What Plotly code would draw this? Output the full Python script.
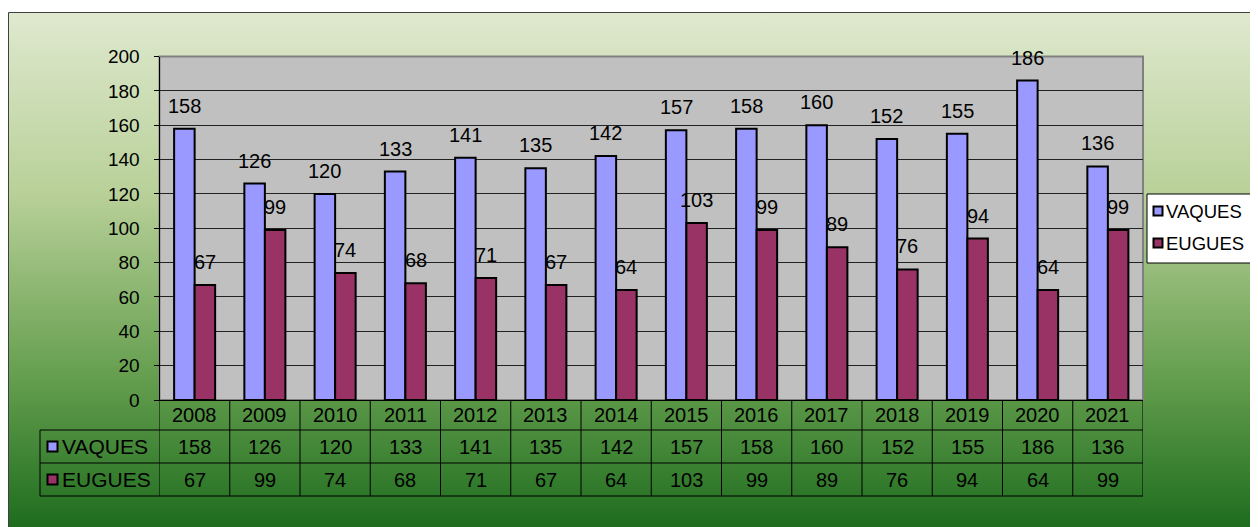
import base64
import plotly.graph_objects as go

# ---- data ----
years = ["2008", "2009", "2010", "2011", "2012", "2013", "2014",
         "2015", "2016", "2017", "2018", "2019", "2020", "2021"]
vaques = [158, 126, 120, 133, 141, 135, 142, 157, 158, 160, 152, 155, 186, 136]
eugues = [67, 99, 74, 68, 71, 67, 64, 103, 99, 89, 76, 94, 64, 99]
series_names = ["VAQUES", "EUGUES"]
y_ticks = list(range(0, 201, 20))

# ---- style ----
W, H = 1258, 527
OFF = 8  # page body margin of the exported html
FONT = "Arial, 'Liberation Sans', sans-serif"
C_VAQ = "#9999FF"
C_EUG = "#993366"


def px(x):
    return (x - OFF) / W


def py(y):
    return 1 - (y - OFF) / H


PL, PR, PT, PB = 159.5, 1143.0, 56.5, 400.0
ROW1, ROW2, ROW3 = 430.0, 463.0, 496.0
TBL_L = 40.0

n = len(years)
idx = list(range(n))

fig = go.Figure()
fig.add_trace(go.Bar(x=years, y=vaques, name=series_names[0],
                     marker=dict(color=C_VAQ, line=dict(color="black", width=2))))
fig.add_trace(go.Bar(x=years, y=eugues, name=series_names[1],
                     marker=dict(color=C_EUG, line=dict(color="black", width=2))))

# gradient background via svg image
svg = ('<svg xmlns="http://www.w3.org/2000/svg" width="1250" height="515" '
       'preserveAspectRatio="none" viewBox="0 0 1250 515">'
       '<defs><linearGradient id="g" x1="0" y1="0" x2="0" y2="1">'
       '<stop offset="0" stop-color="#DFE9CF"/>'
       '<stop offset="0.35" stop-color="#B8D098"/>'
       '<stop offset="0.7" stop-color="#649E4E"/>'
       '<stop offset="1" stop-color="#1B6A1C"/>'
       '</linearGradient></defs>'
       '<rect x="0" y="0" width="1250" height="515" fill="url(#g)"/></svg>')
src = "data:image/svg+xml;base64," + base64.b64encode(svg.encode()).decode()

images = [dict(source=src, xref="paper", yref="paper", x=px(8), y=py(12),
               sizex=1 - px(8), sizey=py(12), xanchor="left", yanchor="top",
               sizing="stretch", layer="below")]

shapes = []
# outer frame
shapes.append(dict(type="rect", xref="paper", yref="paper", x0=px(8.5), x1=1.01,
                   y0=-0.01, y1=py(12.5), line=dict(color="#404040", width=1),
                   fillcolor="rgba(0,0,0,0)", layer="below"))
# plot area background and border
shapes.append(dict(type="rect", xref="paper", yref="paper", x0=px(PL), x1=px(PR),
                   y0=py(PB), y1=py(PT), line=dict(color="#808080", width=2),
                   fillcolor="#C0C0C0", layer="below"))

# data table lines
for i in range(n + 1):
    shapes.append(dict(type="line", xref="x", yref="paper", x0=i - 0.5, x1=i - 0.5,
                       y0=py(ROW3), y1=py(PB), line=dict(color="black", width=1)))
for yy in (ROW1, ROW2, ROW3):
    shapes.append(dict(type="line", xref="paper", yref="paper", x0=px(TBL_L), x1=px(PR),
                       y0=py(yy), y1=py(yy), line=dict(color="black", width=1)))
shapes.append(dict(type="line", xref="paper", yref="paper", x0=px(TBL_L), x1=px(TBL_L),
                   y0=py(ROW3), y1=py(ROW1), line=dict(color="black", width=1)))

annotations = []
# data labels (category index positions)
bar_off = 10.25
for i, v in zip(idx, vaques):
    annotations.append(dict(x=i, y=v, xref="x", yref="y", text=str(v), showarrow=False,
                            xshift=-bar_off, yshift=23, yanchor="middle",
                            font=dict(family=FONT, size=20, color="black")))
for i, v in zip(idx, eugues):
    annotations.append(dict(x=i, y=v, xref="x", yref="y", text=str(v), showarrow=False,
                            xshift=bar_off, yshift=23, yanchor="middle",
                            font=dict(family=FONT, size=20, color="black")))

# table: year row
for i, yr in zip(idx, years):
    annotations.append(dict(x=i, y=py((PB + ROW1) / 2), xref="x", yref="paper", text=yr,
                            showarrow=False, yanchor="middle",
                            font=dict(family=FONT, size=20, color="black")))

# table values
row_centers = [(ROW1 + ROW2) / 2, (ROW2 + ROW3) / 2]
for vals, yc in zip([vaques, eugues], row_centers):
    for i, v in zip(idx, vals):
        annotations.append(dict(x=i, y=py(yc), xref="x", yref="paper", text=str(v),
                                showarrow=False, yanchor="middle",
                                font=dict(family=FONT, size=20, color="black")))

# table row headers
for name, col, yc in zip(series_names, [C_VAQ, C_EUG], row_centers):
    shapes.append(dict(type="rect", xref="paper", yref="paper", x0=px(47.5), x1=px(57.5),
                       y0=py(yc + 5), y1=py(yc - 5), fillcolor=col,
                       line=dict(color="black", width=2)))
    annotations.append(dict(x=px(60), y=py(yc), xref="paper", yref="paper", text=name,
                            showarrow=False, xanchor="left", yanchor="middle",
                            font=dict(family=FONT, size=21, color="black")))

# legend
shapes.append(dict(type="rect", xref="paper", yref="paper", x0=px(1147), x1=px(1253),
                   y0=py(263), y1=py(194), fillcolor="white",
                   line=dict(color="black", width=1)))
for name, col, yc in zip(series_names, [C_VAQ, C_EUG], [211, 243]):
    shapes.append(dict(type="rect", xref="paper", yref="paper", x0=px(1153.5), x1=px(1162.5),
                       y0=py(yc + 4.5), y1=py(yc - 4.5), fillcolor=col,
                       line=dict(color="black", width=2)))
    annotations.append(dict(x=px(1164), y=py(yc), xref="paper", yref="paper", text=name,
                            showarrow=False, xanchor="left", yanchor="middle",
                            font=dict(family=FONT, size=18.5, color="black")))

fig.update_layout(
    width=W, height=H,
    margin=dict(l=0, r=0, t=0, b=0, pad=0, autoexpand=False),
    paper_bgcolor="white",
    plot_bgcolor="rgba(0,0,0,0)",
    showlegend=False,
    barmode="group", bargap=0.416, bargroupgap=0,
    font=dict(family=FONT, color="black"),
    xaxis=dict(domain=[px(PL), px(PR)], type="category", categoryorder="array",
               categoryarray=years, range=[-0.5, n - 0.5], autorange=False,
               showline=True, linecolor="black", linewidth=1,
               showgrid=False, ticks="", showticklabels=False,
               fixedrange=True, automargin=False),
    yaxis=dict(domain=[py(PB), py(PT)], range=[0, 200], autorange=False, tickvals=y_ticks,
               showline=True, linecolor="black", linewidth=1,
               showgrid=True, gridcolor="#222222", gridwidth=1,
               ticks="outside", ticklen=5, tickcolor="black",
               tickfont=dict(size=19, family=FONT), ticklabelstandoff=10,
               zeroline=False, fixedrange=True, automargin=False),
    shapes=shapes, annotations=annotations, images=images,
)

fig.write_html("out.html")
